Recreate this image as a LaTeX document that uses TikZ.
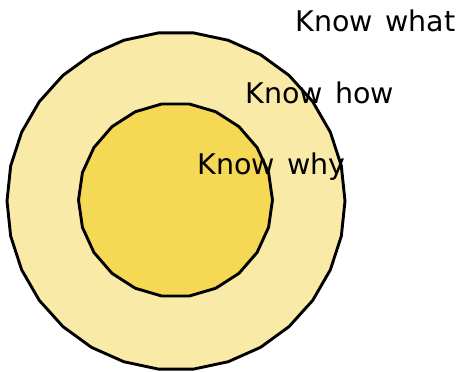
\documentclass[tikz,border=0pt]{standalone}
\usepackage{fontspec}
\setmainfont{DejaVu Sans}[WordSpace=1.35]
\usetikzlibrary{shapes.geometric}
\definecolor{outerfill}{RGB}{250,234,168}
\definecolor{innerfill}{RGB}{245,217,84}
\begin{document}
\begin{tikzpicture}[x=1pt,y=-1pt,
  ring/.style={regular polygon, draw=black, line width=2.9pt, inner sep=0pt, line join=round},
  lbl/.style={anchor=base west, inner sep=0pt, font=\fontsize{28.5}{34}\selectfont}]
\useasboundingbox (0,0) rectangle (456,372);
\node[ring, regular polygon sides=30, minimum size=338pt, fill=outerfill] (outer) at (176,201) {};
\node[ring, regular polygon sides=22, minimum size=194pt, fill=innerfill] (inner) at (175.5,200) {};
\node[lbl] (what) at (295.5,31.5) {Know what};
\node[lbl] (how) at (245.5,103) {Know how};
\node[lbl] (why) at (197.5,174) {Know why};
\end{tikzpicture}
\end{document}
